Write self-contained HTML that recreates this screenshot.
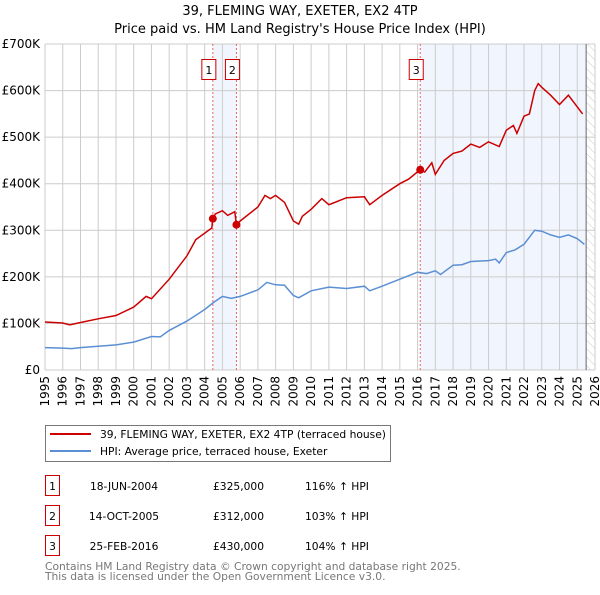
<!DOCTYPE html>
<html><head><meta charset="utf-8"><style>
body{margin:0;background:#fff;font-family:"Liberation Sans","DejaVu Sans",sans-serif;}
svg text{font-family:"DejaVu Sans","Liberation Sans",sans-serif;}
</style></head><body>
<svg id="c" width="600" height="590" xmlns="http://www.w3.org/2000/svg">
<defs><pattern id="hatch" width="6" height="6" patternUnits="userSpaceOnUse" patternTransform="rotate(-45)"><line x1="0" y1="0" x2="0" y2="6" stroke="#ccc" stroke-width="1"/></pattern></defs>
<text x="300" y="15" text-anchor="middle" font-size="13">39, FLEMING WAY, EXETER, EX2 4TP</text>
<text x="300" y="33" text-anchor="middle" font-size="13">Price paid vs. HM Land Registry's House Price Index (HPI)</text>
<g id="plot"></g>
<g id="legend">
<rect x="45.5" y="425.5" width="345" height="36" fill="#fff" stroke="#777"/>
<line x1="50" y1="434" x2="91" y2="434" stroke="#cc0000" stroke-width="2"/>
<text x="100" y="438" font-size="10.7">39, FLEMING WAY, EXETER, EX2 4TP (terraced house)</text>
<line x1="50" y1="451" x2="91" y2="451" stroke="#5b8fd4" stroke-width="2"/>
<text x="100" y="455" font-size="10.7">HPI: Average price, terraced house, Exeter</text>
</g>
<g id="table"></g>
<text x="45" y="570" font-size="10.7" fill="#777">Contains HM Land Registry data © Crown copyright and database right 2025.</text>
<text x="45" y="580" font-size="10.7" fill="#777">This data is licensed under the Open Government Licence v3.0.</text>
</svg>
<script>
const yearTicks=[1995,1996,1997,1998,1999,2000,2001,2002,2003,2004,2005,2006,2007,2008,2009,2010,2011,2012,2013,2014,2015,2016,2017,2018,2019,2020,2021,2022,2023,2024,2025,2026];
const priceTicks=[0,100000,200000,300000,400000,500000,600000,700000];
const priceTickLabels=["£0","£100K","£200K","£300K","£400K","£500K","£600K","£700K"];
const hpiYears=[1995,1996,1996.5,1997,1998,1999,2000,2001,2001.5,2002,2003,2004,2004.5,2005,2005.5,2006,2007,2007.5,2008,2008.5,2009,2009.3,2010,2011,2012,2013,2013.3,2014,2015,2016,2016.5,2017,2017.3,2018,2018.5,2019,2020,2020.4,2020.6,2021,2021.5,2022,2022.6,2023,2023.5,2024,2024.5,2025,2025.4];
const hpiValues=[48,47,46,48,51,54,60,72,71,85,105,130,145,158,154,158,172,188,183,182,160,155,170,178,175,180,170,180,195,210,207,213,205,225,226,233,235,238,230,252,258,270,300,298,290,285,290,282,270];
const propYears=[1995,1996,1996.4,1997,1998,1999,2000,2000.7,2001,2002,2003,2003.5,2004.4,2004.46,2004.6,2005,2005.3,2005.7,2005.79,2006,2007,2007.4,2007.7,2008,2008.5,2009,2009.3,2009.5,2010,2010.6,2011,2012,2013,2013.3,2014,2015,2015.5,2016.15,2016.4,2016.8,2017,2017.5,2018,2018.5,2019,2019.5,2020,2020.6,2021,2021.4,2021.6,2022,2022.3,2022.6,2022.8,2023,2023.5,2024,2024.5,2025,2025.3];
const propValues=[103,101,97,102,110,117,135,158,153,195,245,280,305,325,335,342,332,340,312,320,350,375,368,375,360,320,313,330,345,368,355,370,372,355,375,400,410,430,425,445,420,450,465,470,485,478,490,480,515,525,508,545,550,600,615,607,590,570,590,565,550];
const saleLabels=["1","2","3"];
const saleYears=[2004.46,2005.79,2016.15];
const saleValues=[325,312,430];
const saleDates=["18-JUN-2004","14-OCT-2005","25-FEB-2016"];
const salePrices=["£325,000","£312,000","£430,000"];
const saleHpi=["116% ↑ HPI","103% ↑ HPI","104% ↑ HPI"];
const dataEnd=2025.5;

const X0=45,X1=595,Y0=370,Y1=44;
const xs=y=>X0+(y-1995)/(2026-1995)*(X1-X0);
const ys=v=>Y0-v/700000*(Y0-Y1);
const NS="http://www.w3.org/2000/svg";
const plot=document.getElementById('plot');
function mk(tag,attrs,parent){const e=document.createElementNS(NS,tag);for(const k in attrs)e.setAttribute(k,attrs[k]);(parent||plot).appendChild(e);return e;}

let r=mk('rect',{x:xs(saleYears[0]),y:Y1,width:xs(saleYears[1])-xs(saleYears[0]),height:Y0-Y1,fill:'#eef3fc',opacity:0.8});


r=mk('rect',{x:xs(saleYears[2]),y:Y1,width:xs(dataEnd)-xs(saleYears[2]),height:Y0-Y1,fill:'#eef3fc',opacity:0.8});


r=mk('rect',{x:xs(dataEnd),y:Y1,width:X1-xs(dataEnd),height:Y0-Y1,fill:'url(#hatch)'});



yearTicks.forEach(t=>{const l=mk('line',{x1:xs(t),x2:xs(t),y1:Y1,y2:Y0,stroke:'#ccc','stroke-width':1});


const tx=mk('text',{x:0,y:0,'font-size':12,'text-anchor':'end',transform:`translate(${xs(t)+4},${Y0+6}) rotate(-90)`});tx.textContent=t;

});
priceTicks.forEach((t,i)=>{const l=mk('line',{x1:X0,x2:X1,y1:ys(t),y2:ys(t),stroke:'#ccc','stroke-width':1});


const tx=mk('text',{x:X0-5,y:ys(t)+4,'font-size':12,'text-anchor':'end'});tx.textContent=priceTickLabels[i];

});
r=mk('line',{x1:xs(dataEnd),x2:xs(dataEnd),y1:Y1,y2:Y0,stroke:'#666','stroke-width':1});



saleYears.forEach((s,i)=>{const l=mk('line',{x1:xs(s),x2:xs(s),y1:Y1,y2:Y0,stroke:'#f06060','stroke-width':1,'stroke-dasharray':'2,2'});


const cx=xs(s)-4;
const b=mk('rect',{x:cx-7,y:59.5,width:14,height:20,fill:'#fff',stroke:'#cc0000'});


const t=mk('text',{x:cx,y:74,'font-size':11,'text-anchor':'middle'});t.textContent=saleLabels[i];

});

const path=(xsA,vs)=>xsA.map((y,i)=>(i?'L':'M')+xs(y).toFixed(1)+','+ys(vs[i]*1000).toFixed(1)).join('');
const hp=mk('path',{d:path(hpiYears,hpiValues),fill:'none',stroke:'#5b8fd4','stroke-width':1.5});


const pp=mk('path',{d:path(propYears,propValues),fill:'none',stroke:'#cc0000','stroke-width':1.5});


saleYears.forEach((s,i)=>{const c=mk('circle',{cx:xs(s),cy:ys(saleValues[i]*1000),r:4,fill:'#cc0000'});

});

const tb=document.getElementById('table');
saleLabels.forEach((lab,i)=>{const y=483+i*30;
const b=mk('rect',{x:45.5,y:y-7.5,width:14,height:20,fill:'#fff',stroke:'#cc0000'},tb);


let t=mk('text',{x:52.5,y:y+7,'font-size':10.7,'text-anchor':'middle'},tb);t.textContent=lab;


t=mk('text',{x:124,y:y+7,'font-size':10.7,'text-anchor':'middle'},tb);t.textContent=saleDates[i];


t=mk('text',{x:264,y:y+7,'font-size':10.7,'text-anchor':'end'},tb);t.textContent=salePrices[i];


t=mk('text',{x:305,y:y+7,'font-size':10.7},tb);t.textContent=saleHpi[i];

});
</script>
</body></html>
